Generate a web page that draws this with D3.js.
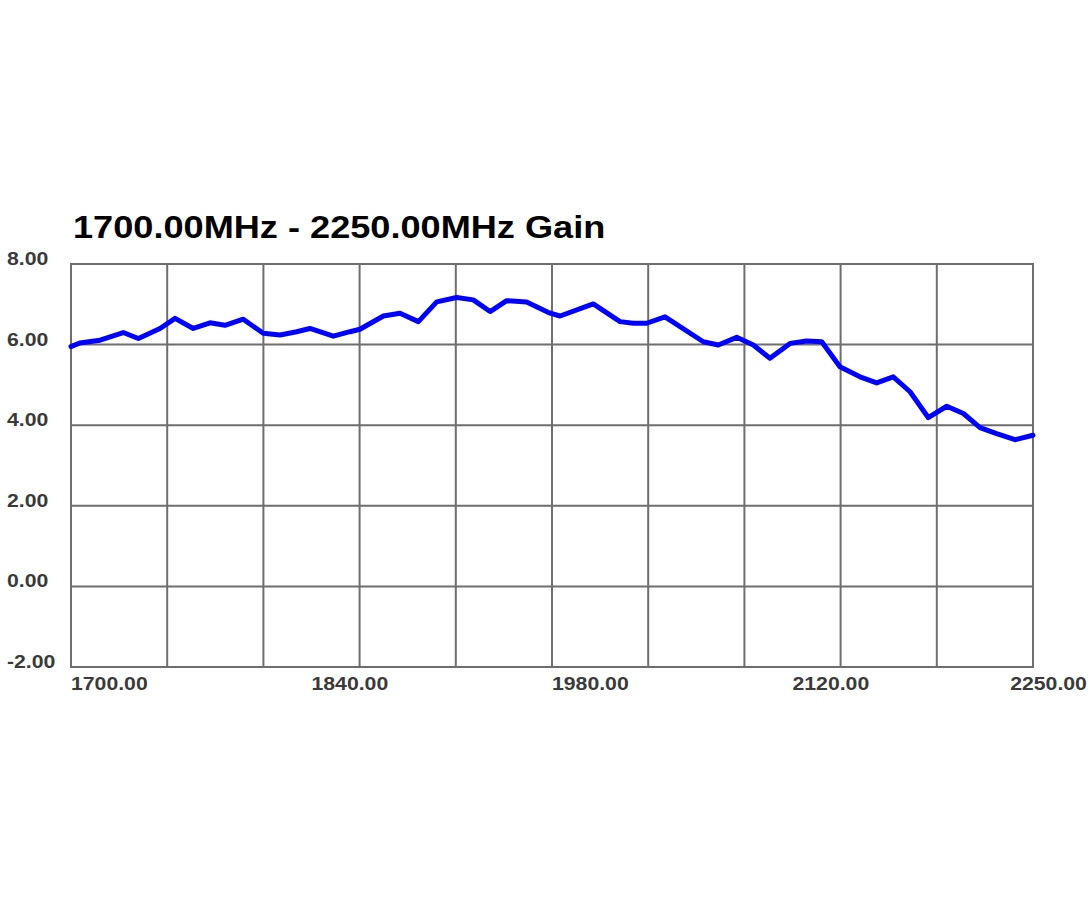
<!DOCTYPE html>
<html>
<head>
<meta charset="utf-8">
<script src="https://cdn.jsdelivr.net/npm/d3@7"></script>
<style>
  html, body { margin: 0; padding: 0; background: #fff; }
  svg { display: block; }
</style>
</head>
<body>
<svg id="chart" width="1090" height="900"></svg>
<script>
const title = "1700.00MHz - 2250.00MHz Gain";

// frequency (MHz) of each sampled point
const freqs = [1700, 1705, 1716.6, 1729.9, 1738.5, 1750.9, 1759.5, 1769.9, 1779.5, 1788, 1798.5,
  1809.9, 1819.5, 1829, 1836.6, 1850, 1859.5, 1865.2, 1878.6, 1888.1, 1898.6, 1909.1, 1920.5,
  1930, 1939.6, 1949.1, 1960.5, 1973.9, 1979.6, 1998.6, 2013.9, 2021.5, 2029.1, 2039.6, 2061.5,
  2070.1, 2080.6, 2090.1, 2099.6, 2111.1, 2120.6, 2129.2, 2139.6, 2151.1, 2160.6, 2170.1,
  2179.7, 2190.1, 2200.7, 2210.2, 2219.7, 2229.2, 2239.7, 2250];
// gain (dB) at each frequency
const gains = [5.95, 6.04, 6.11, 6.30, 6.15, 6.40, 6.65, 6.40, 6.54, 6.48, 6.63,
  6.28, 6.24, 6.32, 6.40, 6.21, 6.32, 6.38, 6.71, 6.78, 6.57, 7.06, 7.17,
  7.11, 6.82, 7.09, 7.06, 6.78, 6.71, 7.01, 6.57, 6.53, 6.53, 6.69, 6.07,
  5.99, 6.18, 5.99, 5.66, 6.03, 6.09, 6.07, 5.45, 5.20, 5.05, 5.20,
  4.83, 4.19, 4.47, 4.29, 3.94, 3.79, 3.64, 3.75];

const xGridValues = [1700, 1755, 1810, 1865, 1920, 1975, 2030, 2085, 2140, 2195, 2250];
const yGridValues = [-2, 0, 2, 4, 6, 8];
const yTickLabels = ["-2.00", "0.00", "2.00", "4.00", "6.00", "8.00"];
const xTickValues = [1700, 1837.5, 1975, 2112.5, 2250];
const xTickLabels = ["1700.00", "1840.00", "1980.00", "2120.00", "2250.00"];

(function () {
const W = 1090;
const pLeft = 71, pRight = 1033, pTop = 264, pBottom = 667;

const svg = d3.select("#chart");
const x = d3.scaleLinear().domain([1700, 2250]).range([pLeft, pRight]);
const y = d3.scaleLinear().domain([-2, 8]).range([pBottom, pTop]);

// grid lines
const grid = svg.append("g").attr("stroke", "#6e6e6e").attr("stroke-width", 2).attr("fill", "none");
grid.selectAll("line.v").data(xGridValues).join("line").attr("class", "v")
  .attr("x1", d => x(d)).attr("x2", d => x(d)).attr("y1", pTop).attr("y2", pBottom);
grid.selectAll("line.h").data(yGridValues).join("line").attr("class", "h")
  .attr("x1", pLeft - 1).attr("x2", pRight + 1).attr("y1", d => y(d)).attr("y2", d => y(d));

// data line
const data = freqs.map((f, i) => [f, gains[i]]);
svg.append("path").datum(data)
  .attr("fill", "none").attr("stroke", "#0000ff").attr("stroke-width", 5)
  .attr("stroke-linejoin", "round").attr("stroke-linecap", "round")
  .attr("d", d3.line().x(d => x(d[0])).y(d => y(d[1])));

const fontFam = "'Liberation Sans', Arial, sans-serif";
const tickScale = 1.18;

// y labels
svg.append("g").selectAll("text").data(yGridValues).join("text")
  .attr("transform", d => `translate(7,${y(d) + 1}) scale(${tickScale},1)`)
  .attr("font-family", fontFam).attr("font-weight", "bold").attr("font-size", 18)
  .attr("fill", "#3a3a3a")
  .text((d, i) => yTickLabels[i]);

// x labels
const xl = svg.append("g").selectAll("text").data(xTickValues).join("text")
  .attr("font-family", fontFam).attr("font-weight", "bold").attr("font-size", 18)
  .attr("fill", "#3a3a3a")
  .text((d, i) => xTickLabels[i]);
xl.each(function (d) {
  const w = this.getComputedTextLength() * tickScale;
  let px = x(d);
  if (px + w > W - 3) px = W - 3 - w;
  d3.select(this).attr("transform", `translate(${px},690) scale(${tickScale},1)`);
});

// title
svg.append("text")
  .attr("transform", `translate(73,238) scale(1.13,1)`)
  .attr("font-family", fontFam).attr("font-weight", "bold").attr("font-size", 32)
  .attr("fill", "#000")
  .text(title);
})();
</script>
</body>
</html>
